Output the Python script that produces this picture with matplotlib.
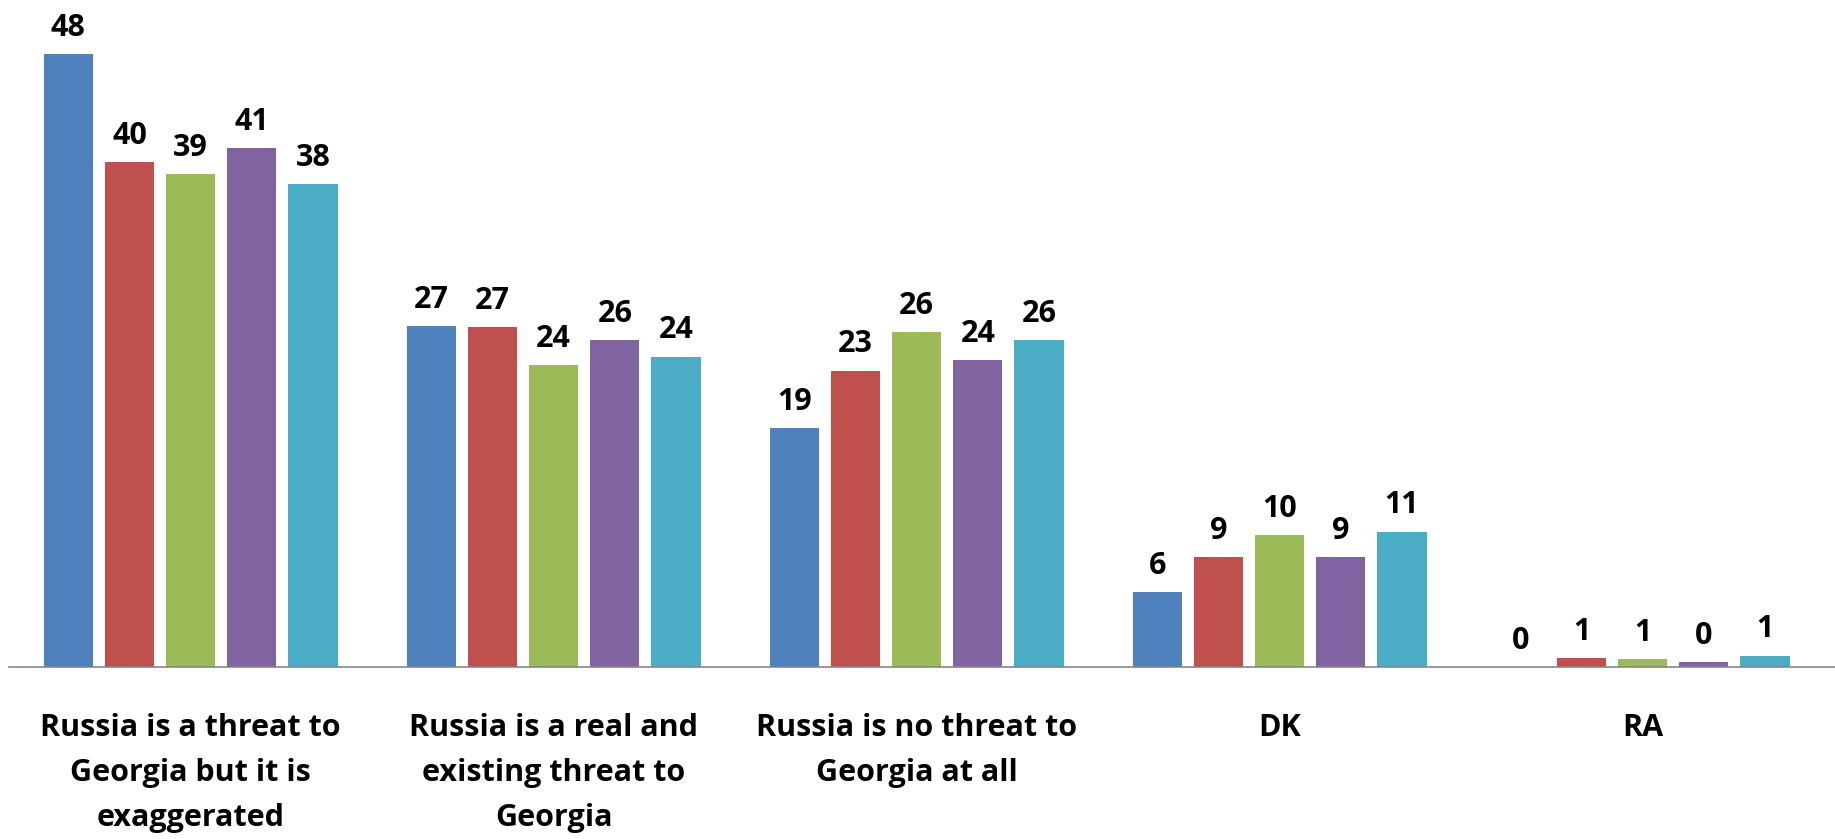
import numpy as np
import matplotlib
matplotlib.use("Agg")
import matplotlib.pyplot as plt

# categories and the five survey waves (bar heights)
categories = [
    "Russia is a threat to\nGeorgia but it is\nexaggerated",
    "Russia is a real and\nexisting threat to\nGeorgia",
    "Russia is no threat to\nGeorgia at all",
    "DK",
    "RA",
]
wave1 = [48.0, 26.7, 18.7, 5.9, 0.0]
wave2 = [39.5, 26.6, 23.2, 8.6, 0.7]
wave3 = [38.6, 23.6, 26.2, 10.3, 0.6]
wave4 = [40.6, 25.6, 24.0, 8.6, 0.4]
wave5 = [37.8, 24.3, 25.6, 10.6, 0.9]

colors = ["#4F81BD", "#C0504D", "#9BBB59", "#8064A2", "#4BACC6"]

font = "Open Sans"

fig = plt.figure(figsize=(18.35, 8.39), dpi=100)
ax = fig.add_axes([0.005, 0.205, 0.995, 0.795])

x = np.arange(len(categories))
slot = 0.1685
width = 0.1355
for i, (vals, col) in enumerate(zip([wave1, wave2, wave3, wave4, wave5], colors)):
    pos = x + (i - 2) * slot
    ax.bar(pos, vals, width=width, color=col, zorder=2)
    for px, v in zip(pos, vals):
        ax.annotate(f"{v:.0f}", (px, v), xytext=(0, 8), textcoords="offset points",
                    ha="center", va="bottom", fontsize=22, fontweight="bold",
                    family=font, color="black")

ax.set_xlim(-0.5, 4.53)
ax.set_ylim(0, 52.2)
ax.set_yticks([])
ax.set_xticks(x)
ax.set_xticklabels(categories, fontsize=22, fontweight="bold", family=font,
                   linespacing=1.65, va="top")
ax.tick_params(axis="x", length=0, pad=33)
for side in ["top", "right", "left"]:
    ax.spines[side].set_visible(False)
ax.spines["bottom"].set_color("#868686")
ax.spines["bottom"].set_linewidth(1.2)

fig.savefig("out.png", dpi=100)
